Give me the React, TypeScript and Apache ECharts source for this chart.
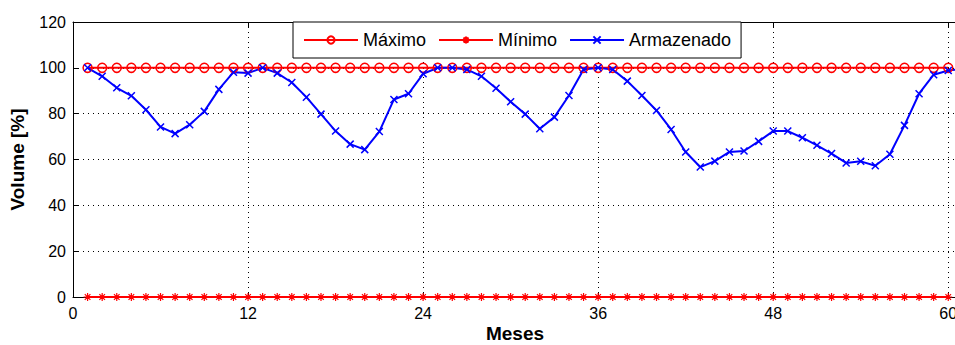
import React, { useEffect, useRef } from "react";
import * as echarts from "echarts";

const meses = [1,2,3,4,5,6,7,8,9,10,11,12,13,14,15,16,17,18,19,20,21,22,23,24,25,26,27,28,29,30,31,32,33,34,35,36,37,38,39,40,41,42,43,44,45,46,47,48,49,50,51,52,53,54,55,56,57,58,59,60];
const mesesArm = [1,2,3,4,5,6,7,8,9,10,11,12,13,14,15,16,17,18,19,20,21,22,23,24,25,26,27,28,29,30,31,32,33,34,35,36,37,38,39,40,41,42,43,44,45,46,47,48,49,50,51,52,53,54,55,56,57,58,59,60,61];
const maximo = [100,100,100,100,100,100,100,100,100,100,100,100,100,100,100,100,100,100,100,100,100,100,100,100,100,100,100,100,100,100,100,100,100,100,100,100,100,100,100,100,100,100,100,100,100,100,100,100,100,100,100,100,100,100,100,100,100,100,100,100];
const minimo = [0,0,0,0,0,0,0,0,0,0,0,0,0,0,0,0,0,0,0,0,0,0,0,0,0,0,0,0,0,0,0,0,0,0,0,0,0,0,0,0,0,0,0,0,0,0,0,0,0,0,0,0,0,0,0,0,0,0,0,0];
const armazenado = [100,96.3,91.3,87.8,81.7,74.2,71.3,75.2,81,90.6,98.1,97.7,100,97.7,93.6,87.2,79.8,72.4,66.7,64.3,72.2,86.2,88.7,97.4,100,100,99.3,96.3,91.1,85.2,79.8,73.4,78.5,87.9,99.3,100,99.3,94.2,87.9,81.4,73.1,63.3,56.7,59.3,63.3,63.7,67.9,72.4,72.4,69.5,66.2,62.6,58.5,59.2,57.3,62.3,74.9,88.7,97,98.8,99.6];
const xTicks = [0, 12, 24, 36, 48, 60];
const yTicks = [0, 20, 40, 60, 80, 100, 120];

const FONT = "Liberation Sans, Arial, sans-serif";
const X_SYMBOL = "path://M0,0L10,10M10,0L0,10";
const STAR_SYMBOL = "path://M0,5L10,5M5,0L5,10M1.5,1.5L8.5,8.5M8.5,1.5L1.5,8.5";

export default function App() {
  const ref = useRef<HTMLDivElement>(null);
  useEffect(() => {
    if (!ref.current) return;
    const chart = echarts.init(ref.current, undefined, { renderer: "svg" });
    const pairs = (xs: number[], ys: number[]) => ys.map((v, i) => [xs[i], v]);
    chart.setOption({
      animation: false,
      backgroundColor: "#fff",
      textStyle: { fontFamily: FONT },
      grid: { left: 73, right: -2, top: 22, bottom: 48, containLabel: false, outerBoundsMode: "none" },
      legend: {
        left: 293,
        top: 22,
        backgroundColor: "#fff",
        borderColor: "#000",
        borderWidth: 1,
        padding: [9, 10, 9, 10],
        itemGap: 12,
        itemWidth: 54,
        itemHeight: 9,
        textStyle: { fontFamily: FONT, fontSize: 18, color: "#000" },
        data: ["Máximo", "Mínimo", "Armazenado"],
      },
      xAxis: [
        {
          type: "value",
          min: 0,
          max: 60.6,
          interval: 12,
          name: "Meses",
          nameLocation: "middle",
          nameGap: 27,
          nameMoveOverlap: false,
          nameTextStyle: { fontFamily: FONT, fontSize: 19, fontWeight: "bold", color: "#000" },
          axisLine: { show: true, lineStyle: { color: "#000", width: 1 } },
          axisTick: { show: true, inside: true, length: 5, lineStyle: { color: "#000" } },
          axisLabel: {
            color: "#000",
            fontSize: 16,
            fontFamily: FONT,
            margin: 8,
            formatter: (v: number) => (xTicks.includes(v) ? String(v) : ""),
          },
          splitLine: { show: true, lineStyle: { color: "#000", type: [1, 4], width: 1 } },
        },
        {
          type: "value",
          position: "top",
          min: 0,
          max: 60.6,
          interval: 12,
          axisLine: { show: true, lineStyle: { color: "#000", width: 1 } },
          axisTick: { show: true, inside: true, length: 5, lineStyle: { color: "#000" } },
          axisLabel: { show: false },
          splitLine: { show: false },
        },
      ],
      yAxis: {
        type: "value",
        min: 0,
        max: 120,
        interval: 20,
        name: "Volume [%]",
        nameLocation: "middle",
        nameGap: 46,
        nameMoveOverlap: false,
        nameTextStyle: { fontFamily: FONT, fontSize: 19, fontWeight: "bold", color: "#000" },
        axisLine: { show: true, lineStyle: { color: "#000", width: 1 } },
        axisTick: { show: true, inside: true, length: 5, lineStyle: { color: "#000" } },
        axisLabel: {
          color: "#000",
          fontSize: 16,
          fontFamily: FONT,
          margin: 7,
          formatter: (v: number) => (yTicks.includes(v) ? String(v) : ""),
        },
        splitLine: { show: true, lineStyle: { color: "#000", type: [1, 4], width: 1 } },
      },
      series: [
        {
          name: "Máximo",
          type: "line",
          data: pairs(meses, maximo),
          symbol: "circle",
          symbolSize: 9,
          showAllSymbol: true,
          clip: false,
          lineStyle: { color: "#ff0000", width: 2 },
          itemStyle: { color: "rgba(255,255,255,0)", borderColor: "#ff0000", borderWidth: 1.5 },
        },
        {
          name: "Mínimo",
          type: "line",
          data: pairs(meses, minimo),
          symbol: STAR_SYMBOL,
          symbolSize: 8,
          showAllSymbol: true,
          clip: false,
          lineStyle: { color: "#ff0000", width: 2 },
          itemStyle: { color: "#ff0000", borderColor: "#ff0000", borderWidth: 1.2 },
        },
        {
          name: "Armazenado",
          type: "line",
          data: pairs(mesesArm, armazenado),
          symbol: X_SYMBOL,
          symbolSize: 7,
          showAllSymbol: true,
          clip: true,
          lineStyle: { color: "#0000ff", width: 2 },
          itemStyle: { color: "#0000ff", borderColor: "#0000ff", borderWidth: 1.5 },
        },
      ],
    });
    return () => chart.dispose();
  }, []);
  return (
    <div
      ref={ref}
      style={{ position: "fixed", left: 0, top: 0, width: 955, height: 345, overflow: "hidden" }}
    />
  );
}
